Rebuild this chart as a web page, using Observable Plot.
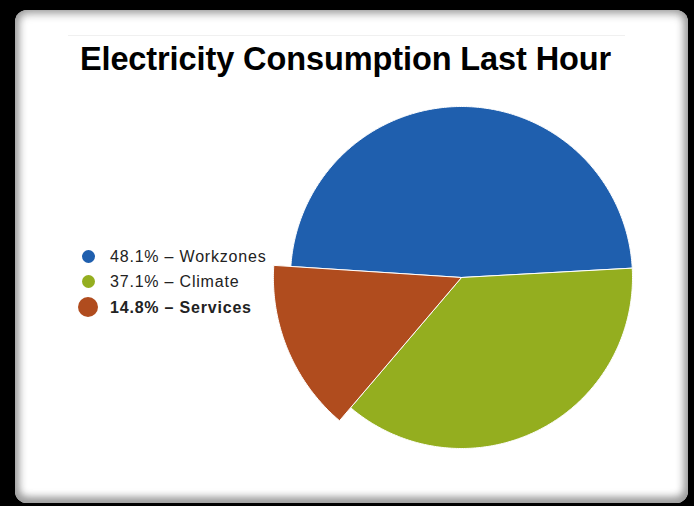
<!DOCTYPE html>
<html>
<head>
<meta charset="utf-8">
<script src="https://cdn.jsdelivr.net/npm/d3@7"></script>
<script src="https://cdn.jsdelivr.net/npm/@observablehq/plot@0.6"></script>
<style>
  html, body { margin: 0; padding: 0; background: #000; width: 694px; height: 506px; overflow: hidden; font-family: "Liberation Sans", Arial, sans-serif; }
  #panel { position: absolute; left: 15px; top: 10px; width: 673px; height: 493px; background: #fff; border-radius: 12px;
            box-shadow: inset 0 0 10px 3px #9a9a9a, inset 0 -4px 8px 1px #aaa; }
  #rule { position: absolute; left: 53px; top: 25px; width: 557px; height: 1px; background: #f0f0f0; }
  #title { position: absolute; left: 0; width: 661px; top: 31px; text-align: center; font-weight: bold; font-size: 32.5px; color: #000; letter-spacing: -0.1px; }
  #legend { position: absolute; left: 60px; top: 236px; font-size: 16px; letter-spacing: 0.8px; color: #222; }
  .row { position: relative; height: 25.5px; }
  .sw { position: absolute; border-radius: 50%; }
  .lab { position: absolute; left: 35px; white-space: nowrap; }
  #chart { position: absolute; left: 0; top: 75px; }
</style>
</head>
<body>
<div id="panel">
  <div id="rule"></div>
  <div id="title">Electricity Consumption Last Hour</div>
  <div id="legend"></div>
  <div id="chart"></div>
</div>
<script>
// Data
const categories = ["Workzones", "Climate", "Services"];
const values = [48.1, 37.1, 14.8];
const colors = ["#1f5fae", "#94ae1f", "#b04c1e"];
const highlighted = [false, false, true];

// Legend (HTML)
const legend = document.getElementById("legend");
categories.forEach((c, i) => {
  const row = document.createElement("div");
  row.className = "row";
  const big = highlighted[i];
  const r = big ? 10 : 6.5;
  const sw = document.createElement("div");
  sw.className = "sw";
  sw.style.width = sw.style.height = (2 * r) + "px";
  sw.style.left = (13 - r) + "px";
  sw.style.top = (10 - r) + "px";
  sw.style.background = colors[i];
  row.appendChild(sw);
  const lab = document.createElement("div");
  lab.className = "lab";
  lab.style.top = "1.5px";
  lab.style.fontWeight = big ? "bold" : "normal";
  lab.textContent = values[i].toFixed(1) + "% \u2013 " + c;
  row.appendChild(lab);
  legend.appendChild(row);
});

// Pie geometry via d3.pie, drawn through Plot's x/y scales
const W = 673, H = 400, R = 171, CX = 446, CY = 192;
const start = -86.3 * Math.PI / 180;
const arcs = d3.pie().sort(null).startAngle(start).endAngle(start + 2 * Math.PI)(values);
const pts = [];
arcs.forEach((a, i) => {
  const rad = highlighted[i] ? 1.1 : 1;
  const name = categories[i];
  pts.push({name, x: 0, y: 0});
  const n = Math.max(8, Math.ceil((a.endAngle - a.startAngle) / 0.01));
  for (let k = 0; k <= n; k++) {
    const t = a.startAngle + (a.endAngle - a.startAngle) * k / n;
    pts.push({name, x: rad * Math.sin(t), y: rad * Math.cos(t)});
  }
  pts.push({name, x: 0, y: 0});
});

const plot = Plot.plot({
  width: W, height: H,
  margin: 0,
  x: {domain: [-CX / R, (W - CX) / R], range: [0, W], axis: null},
  y: {domain: [-(H - CY) / R, CY / R], range: [H, 0], axis: null},
  color: {domain: categories, range: colors},
  style: {background: "transparent"},
  marks: [
    Plot.line(pts, {x: "x", y: "y", z: "name", fill: "name", stroke: "#fff", strokeWidth: 1, curve: "linear"})
  ]
});
document.getElementById("chart").appendChild(plot);
</script>
</body>
</html>
